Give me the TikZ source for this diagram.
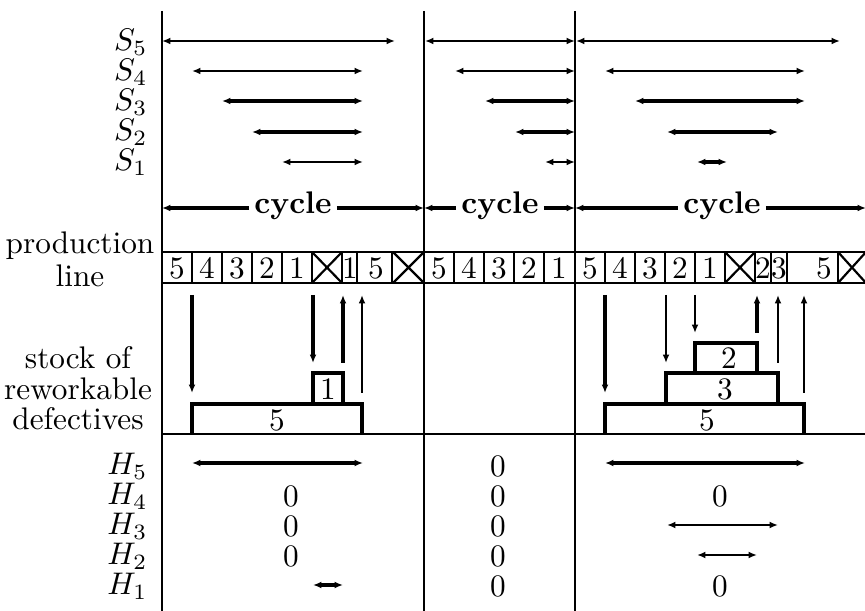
\documentclass[tikz,border=0pt]{standalone}
\usetikzlibrary{arrows.meta}
\begin{document}
\begin{tikzpicture}[x=0.32pt,y=-0.32pt,
  >={Latex[length=2.7pt,width=2.2pt]},
  rule/.style={line width=0.95pt},
  thinspan/.style={<->,line width=0.7pt},
  thickspan/.style={<->,line width=1.05pt},
  thinflow/.style={->,line width=0.7pt},
  thickflow/.style={->,line width=1.05pt},
  cellwall/.style={line width=0.7pt},
  lbl/.style={anchor=east,inner sep=0pt},
  side/.style={inner sep=0pt},
  digit/.style={inner sep=0pt},
  box/.style={draw,line width=1.05pt},
  cyc/.style={font=\bfseries,inner sep=1.5pt}]
\useasboundingbox (0,0) rectangle (865,611);

% cycle boundaries
\foreach \x in {162,424,575}
  \draw[rule] (\x,11) -- (\x,611);

% horizontal rules
\draw[rule] (162,252) -- (866,252);
\draw[rule] (162,283) -- (866,283);
\draw[rule] (162,434) -- (866,434);

% row labels
\foreach \i/\y in {5/42,4/72,3/102,2/132,1/162}
  \node[lbl] (S\i) at (148,\y) {$S_{\i}$};
\foreach \i/\y in {5/466,4/496,3/526,2/556,1/586}
  \node[lbl] (H\i) at (148,\y) {$H_{\i}$};
\node[side] (prod) at (80,246) {production};
\node[side] (line) at (80,276) {line};
\node[side] (st1) at (78,358) {stock of};
\node[side] (st2) at (78,389) {reworkable};
\node[side] (st3) at (78,419) {defectives};

% set-up spans S_i
\draw[thinspan]  (162,41) -- (395,41);
\draw[thinspan]  (192,71) -- (363,71);
\draw[thickspan] (222,101) -- (363,101);
\draw[thickspan] (252,132) -- (363,132);
\draw[thinspan]  (282,162) -- (363,162);

\draw[thinspan]  (425,41) -- (575,41);
\draw[thinspan]  (455,71) -- (575,71);
\draw[thickspan] (485,101) -- (575,101);
\draw[thickspan] (515,132) -- (575,132);
\draw[thinspan]  (545,162) -- (575,162);

\draw[thinspan]  (576,41) -- (840,41);
\draw[thinspan]  (605,71) -- (805,71);
\draw[thickspan] (635,101) -- (805,101);
\draw[thickspan] (667,132) -- (778,132);
\draw[thickspan] (697,162) -- (727,162);

% cycle spans
\node[cyc] (c1) at (293,206) {cycle};
\node[cyc] (c2) at (500,206) {cycle};
\node[cyc] (c3) at (722,206) {cycle};
\draw[thickflow] (c1.west |- 0,208) -- (162,208);
\draw[thickflow] (c1.east |- 0,208) -- (424,208);
\draw[thickflow] (c2.west |- 0,208) -- (424,208);
\draw[thickflow] (c2.east |- 0,208) -- (575,208);
\draw[thickflow] (c3.west |- 0,208) -- (575,208);
\draw[thickflow] (c3.east |- 0,208) -- (866,208);

% production line: numbered lots
\foreach \x in {162,192,222,252,282,424,454,484,514,544,575,605,635,665,695}
  \draw[cellwall] (\x,252) -- (\x,283);
\foreach \x/\t in {177/5,207/4,237/3,267/2,297/1,
                   439/5,469/4,499/3,529/2,559/1,
                   590/5,620/4,650/3,680/2,710/1}
  \node[digit] (p\x) at (\x,268) {\t};
% rework slots
\foreach \x in {312,342,357,392,725,755,771,787,838}
  \draw[cellwall] (\x,252) -- (\x,283);
\node[digit] (r1) at (350,268) {1};
\node[digit] (r5) at (376,268) {5};
\node[digit] (r2) at (763,268) {2};
\node[digit] (r3) at (779,268) {3};
\node[digit] (r5b) at (824,268) {5};
% defective (scrapped) slots
\foreach \a/\b in {312/342,393/424,725/755,838/866}
  \draw[cellwall] (\a,252) -- (\b,283) (\a,283) -- (\b,252);

% stock of reworkable defectives, first cycle
\draw[box] (192,434) |- (362,404) -- (362,434);
\node[digit] (k5) at (277,420) {5};
\draw[box] (313,404) |- (343,373) -- (343,404);
\node[digit] (k1) at (328,389) {1};
\draw[thickflow] (192,295) -- (192,393);
\draw[thickflow] (313,295) -- (313,363);
\draw[thickflow] (343,363) -- (343,295);
\draw[thinflow]  (362,393) -- (362,295);

% stock of reworkable defectives, third cycle
\draw[box] (605,434) |- (804,404) -- (804,434);
\node[digit] (m5) at (707,420) {5};
\draw[box] (666,404) |- (778,373) -- (778,404);
\node[digit] (m3) at (725,389) {3};
\draw[box] (695,373) |- (757,343) -- (757,373);
\node[digit] (m2) at (729,358) {2};
\draw[thickflow] (605,295) -- (605,393);
\draw[thinflow]  (666,295) -- (666,363);
\draw[thinflow]  (695,295) -- (695,333);
\draw[thickflow] (757,333) -- (757,295);
\draw[thinflow]  (778,363) -- (778,295);
\draw[thinflow]  (804,393) -- (804,295);

% holding spans H_i
\draw[thickspan] (192,463) -- (363,463);
\foreach \y in {496,526,556}
  \node[digit] (z1\y) at (291,\y) {0};
\draw[thickspan] (313,585) -- (343,585);

\foreach \y in {466,496,526,556,586}
  \node[digit] (z2\y) at (498,\y) {0};

\draw[thickspan] (605,463) -- (805,463);
\node[digit] (z34) at (720,496) {0};
\draw[thinspan]  (667,525) -- (778,525);
\draw[thinspan]  (697,555) -- (757,555);
\node[digit] (z31) at (720,586) {0};
\end{tikzpicture}
\end{document}
